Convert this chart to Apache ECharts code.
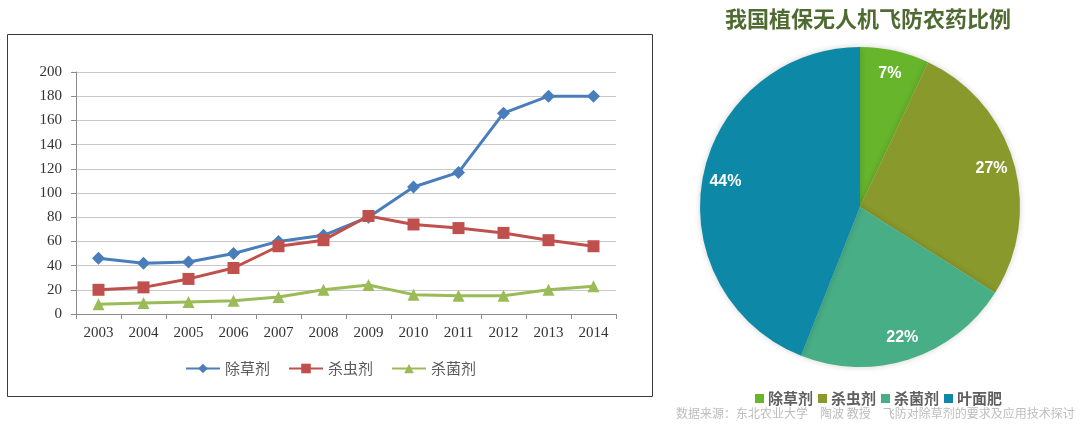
<!DOCTYPE html>
<html><head><meta charset="utf-8">
<script src="https://cdn.jsdelivr.net/npm/echarts@6/dist/echarts.min.js"></script>
<style>html,body{margin:0;padding:0;background:#fff}#c{width:1080px;height:432px}</style>
</head><body><div id="c"></div>
<script>
const years = ['2003','2004','2005','2006','2007','2008','2009','2010','2011','2012','2013','2014'];
const herbicide = [46, 42, 43, 50, 60, 65, 80, 105, 117, 166, 180, 180];
const insecticide = [20, 22, 29, 38, 56, 61, 81, 74, 71, 67, 61, 56];
const fungicide = [8, 9, 10, 11, 14, 20, 24, 16, 15, 15, 20, 23];
const lineNames = ['除草剂', '杀虫剂', '杀菌剂'];
const pieNames = ['除草剂', '杀虫剂', '杀菌剂', '叶面肥'];
const pieValues = [7, 27, 22, 44];
const pieTitle = '我国植保无人机飞防农药比例';
const sourceText = '数据来源：东北农业大学　陶波 教授　飞防对除草剂的要求及应用技术探讨';

const lineColors = ['#4a7ebb', '#c0504d', '#9bbb59'];
const pieColors = ['#67b52b', '#8a992b', '#48ae85', '#0d89a7'];
const serif = 'Liberation Serif';
const cjk = 'Noto Sans CJK SC';

const chart = echarts.init(document.getElementById('c'));
const pieData = pieNames.map((n, i) => ({name: n, value: pieValues[i], itemStyle: {color: pieColors[i]}}));
chart.setOption({
  animation: false,
  title: {text: pieTitle, left: 720, top: 3,
    textStyle: {fontFamily: cjk, fontSize: 22, fontWeight: 'bold', color: '#4f6b32'}},
  graphic: [
    {type: 'rect', shape: {x: 7.5, y: 34.5, width: 645, height: 362},
     style: {fill: 'none', stroke: '#3a3a3a', lineWidth: 1}},
    {type: 'text', left: 676, top: 407,
     style: {text: sourceText, font: '12px "Noto Sans CJK SC"', fill: '#bdbdbd'}}
  ],
  grid: {left: 76, top: 72, width: 540, height: 242, containLabel: false},
  xAxis: {type: 'category', data: years, boundaryGap: true,
    axisLine: {show: true, lineStyle: {color: '#8c8c8c'}},
    axisTick: {show: true, length: 5, lineStyle: {color: '#8c8c8c'}},
    axisLabel: {fontFamily: serif, fontSize: 15, color: '#333', margin: 12}},
  yAxis: {type: 'value', min: 0, max: 200, interval: 20,
    axisLine: {show: true, lineStyle: {color: '#8c8c8c'}},
    axisTick: {show: true, length: 5, lineStyle: {color: '#8c8c8c'}},
    axisLabel: {fontFamily: serif, fontSize: 15, color: '#333', margin: 14},
    splitLine: {lineStyle: {color: '#c8c8c8', width: 1}}},
  legend: [
    {data: lineNames, left: 180, top: 356, itemWidth: 34, itemHeight: 12, itemGap: 18,
     textStyle: {fontFamily: cjk, fontSize: 15, color: '#595959'}},
    {data: pieNames.map((n, i) => ({name: n, itemStyle: {color: pieColors[i]}})),
     left: 750, top: 386, icon: 'rect', itemWidth: 9, itemHeight: 9, itemGap: 5,
     textStyle: {fontFamily: cjk, fontSize: 15, fontWeight: 'bold', color: '#5f5f5f', padding: [0, 0, 0, -1]}}
  ],
  series: [
    {name: lineNames[0], type: 'line', data: herbicide, symbol: 'diamond', symbolSize: 13,
     lineStyle: {width: 3, color: lineColors[0]}, itemStyle: {color: lineColors[0]}},
    {name: lineNames[1], type: 'line', data: insecticide, symbol: 'rect', symbolSize: 12,
     lineStyle: {width: 3, color: lineColors[1]}, itemStyle: {color: lineColors[1]}},
    {name: lineNames[2], type: 'line', data: fungicide, symbol: 'triangle', symbolSize: 12,
     lineStyle: {width: 3, color: lineColors[2]}, itemStyle: {color: lineColors[2]}},
    {type: 'pie', center: [860, 207], radius: 160, startAngle: 90, clockwise: true,
     data: pieData, label: {show: false}, labelLine: {show: false},
     itemStyle: {shadowBlur: 6, shadowColor: 'rgba(0,0,0,0.18)'}},
    {type: 'pie', center: [860, 207], radius: [0, 268], startAngle: 90, clockwise: true, silent: true,
     data: pieNames.map((n, i) => ({name: n, value: pieValues[i], itemStyle: {color: 'rgba(0,0,0,0)'}})),
     label: {show: true, position: 'inside', formatter: '{c}%', color: '#fff',
       fontFamily: 'Liberation Sans', fontWeight: 'bold', fontSize: 16},
     labelLine: {show: false}, emphasis: {disabled: true}}
  ]
});
</script></body></html>
